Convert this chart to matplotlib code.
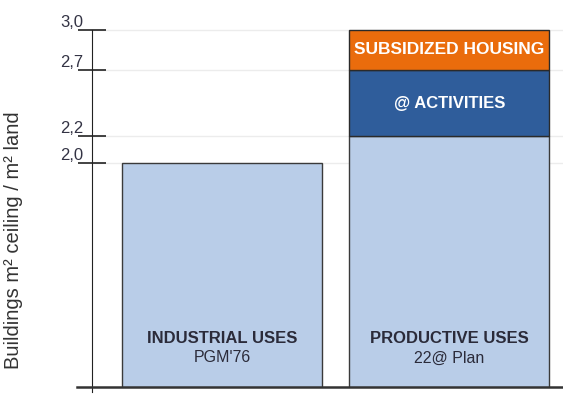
import matplotlib
matplotlib.use("Agg")
import matplotlib.pyplot as plt

# dati
categorie = ["INDUSTRIAL USES\nPGM'76", "PRODUCTIVE USES\n22@ Plan"]
base = [2.0, 2.2]
attivita = [0.0, 0.5]
abitazioni = [0.0, 0.3]
tick_valori = [2.0, 2.2, 2.7, 3.0]
tick_etichette = ["2,0", "2,2", "2,7", "3,0"]

fig = plt.figure(figsize=(5.63, 3.97), dpi=100)
ax = fig.add_axes([92 / 563, 10 / 397, 471 / 563, 377 / 397])

y_min, y_max = 0.316, 3.15
ax.set_ylim(y_min, y_max)
ax.set_xlim(-0.572, 1.5)

for v in tick_valori:
    ax.axhline(v, color="#ececec", linewidth=1, zorder=0)

larghezza = 0.88
x = [0, 1]
ax.bar(x, base, width=larghezza, color="#b9cde8", edgecolor="#3a3a3a", linewidth=1, zorder=2)
ax.bar(x[1], attivita[1], bottom=base[1], width=larghezza, color="#2f5d9b",
       edgecolor="#2a2a2a", linewidth=1, zorder=2)
ax.bar(x[1], abitazioni[1], bottom=base[1] + attivita[1], width=larghezza, color="#ea6c0c",
       edgecolor="#2a2a2a", linewidth=1, zorder=2)

font_barre = ["Liberation Sans", "DejaVu Sans"]
for i, cat in enumerate(categorie):
    riga1, riga2 = cat.split("\n")
    ax.text(x[i], 0.68, riga1, ha="center", va="center", fontsize=12,
            fontweight="bold", color="#2b2b3a", family=font_barre, zorder=3)
    ax.text(x[i], 0.535, riga2, ha="center", va="center", fontsize=11.5,
            color="#2b2b3a", family=font_barre, zorder=3)

ax.text(x[1], base[1] + attivita[1] / 2, "@ ACTIVITIES", ha="center", va="center",
        fontsize=12, fontweight="bold", color="white", family=font_barre, zorder=3)
ax.text(x[1], base[1] + attivita[1] + abitazioni[1] / 2, "SUBSIDIZED HOUSING", ha="center",
        va="center", fontsize=12.5, fontweight="bold", color="white", family=font_barre,
        zorder=3, clip_on=True)

# assi
for s in ["top", "right", "bottom"]:
    ax.spines[s].set_visible(False)
ax.spines["left"].set_bounds(y_min - 0.04, 3.0)
ax.spines["left"].set_color("#222222")
ax.plot([-0.64, 1.5], [y_min, y_min], color="#333333", linewidth=1.8, clip_on=False, zorder=4)

ax.set_xticks([])
ax.set_yticks(tick_valori)
ax.set_yticklabels(tick_etichette, va="bottom", family=font_barre)
ax.tick_params(axis="y", direction="inout", length=20, width=1.2, color="#222222",
               labelsize=12, labelcolor="#333344", pad=-4)

fig.text(14 / 563, 1 - 240 / 397, "Buildings m² ceiling / m² land", rotation=90,
         ha="center", va="center", fontsize=14.5, color="#333333",
         family=["Liberation Sans", "DejaVu Sans"])

fig.savefig("out.png", dpi=100)
